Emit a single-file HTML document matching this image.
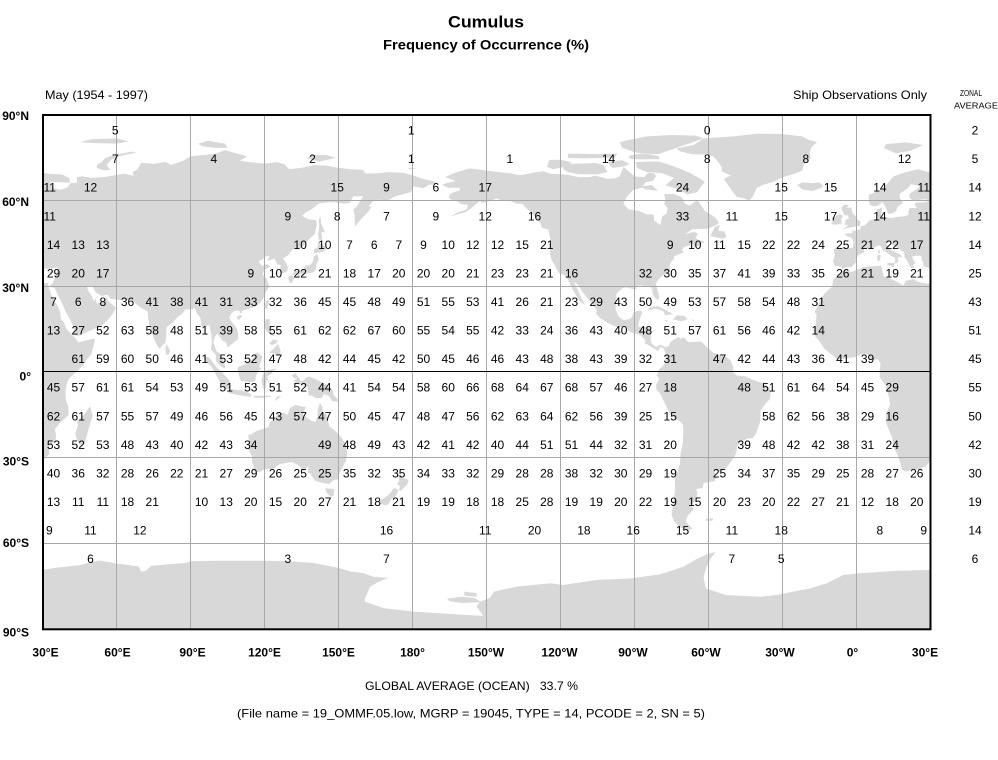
<!DOCTYPE html>
<html><head><meta charset="utf-8"><style>
html,body{margin:0;padding:0;background:#fff;}
svg{display:block;}
text{font-family:"Liberation Sans",Arial,sans-serif;}
</style></head><body>
<svg width="998" height="760" viewBox="0 0 998 760" xmlns="http://www.w3.org/2000/svg" xmlns:xlink="http://www.w3.org/1999/xlink">
<rect width="998" height="760" fill="#fff"/>
<defs>
<clipPath id="fr"><rect x="43" y="115" width="887.5" height="514.3"/></clipPath>
<g id="L">
<polygon points="-5.9,35.8 -2,35.1 3,36.8 10,37.3 11,33.5 15,32.3 19,30.3 20,32 23,32.6 25,31.6 29,30.9 32.3,31.3 32.5,29.9 33.5,27 35.6,23.9 37.2,21 37.4,18.7 38.6,17.5 39.7,15.1 41.7,13.4 43.3,11.9 44.5,10.4 51.2,11.8 51,10.4 49.9,6.4 48,4.5 46,2 43,-0.5 41,-2 40,-3.5 39.3,-6.5 39.5,-10 40.5,-12 40.6,-15 36.8,-18 35,-20 35.5,-22 35.3,-24 32.6,-26 32.8,-28.8 31,-30 28,-33 25.6,-34 22,-34.2 20,-34.8 18.4,-34.2 17.9,-32 16.5,-28.6 15,-26.5 14.5,-22.9 13,-20 11.8,-17 12.2,-14 13.6,-11.5 13.2,-8.8 12.2,-6 11.8,-4.5 9.5,-2 9.3,0.5 9.8,3 8.7,4.5 6,4.3 4.5,6.3 2,6.3 -1,5.2 -3,5 -7.5,4.4 -11,6.8 -13.3,8.5 -15,10.8 -16.7,12.4 -17.4,14.7 -16.5,16.5 -16.2,20.2 -17,21 -14.8,25 -13,27.5 -9.8,30 -9.5,32.5 -6.8,34"/>
<polygon points="49.3,-12 50.4,-15.5 49.5,-17.5 48,-22 47.1,-24.9 45.2,-25.5 43.7,-23 43.3,-21.5 44.4,-18.5 44,-17 46,-15.8 48,-13.5"/>
<polygon points="32.5,29.9 34.9,29.5 36.5,26.5 38,24 39.2,21.5 40.8,19 42.5,16 43,13 44.5,12.7 48,14 52.2,15.6 55,17 57,18.8 58.5,20.5 59.8,22.5 58.5,23.6 56.4,24.9 56.3,26.3 55,25.2 52,24 51.6,25.9 50.8,24.8 50,26.7 48.5,28.5 48,30 50.2,30.2 51.5,27.9 54,26.7 56.5,27.1 57.5,25.7 61.6,25.2 66.5,25.4 68,23.8 70,22.5 72.6,21.3 72.8,19 73.4,16 74.6,13 76,10 77.5,8.1 78.2,9 79.8,10.3 80.2,13 80.3,15.8 82.3,17 84.8,19.3 86.8,20.6 88,22 90,21.9 91.8,22.4 92.3,21 94,19 94.4,16 95.4,15.8 97.6,16.5 98.5,13 98.6,10 98.3,8 100.3,6 100.3,4 101.3,2.9 103.5,1.3 104.2,1.5 103.4,4.5 102.2,6.2 100.5,7.4 99.8,9.3 99.2,10.5 100,12.6 100.8,13.5 102,12.2 103,11 104.5,10.4 105,8.6 106.7,9.8 109.2,11.5 109.3,13.5 108.7,15.4 106.5,17.8 105.7,19 106.7,20.7 108,21.5 109.7,21.5 110.5,20.3 111,21.5 113.5,22.2 116.5,23 118.5,24.5 119.6,26 120.5,28 122,29.9 121.5,31 120.9,32.6 119.2,34.3 120.3,36 122.5,37 121,37.8 119,37.2 118,38.2 117.7,39 119,39.3 121,40.8 122,40.5 121.2,38.8 124,39.8 125.2,37.7 126.5,37.5 126.3,35 127.5,34.6 129.3,35.3 129.5,36.8 128.5,38.5 127.5,39.8 129.7,41 130.7,42.3 132,43.2 133,42.8 135.5,43.9 138,46.5 140.4,48.3 141.2,51.8 140.8,53.2 137.7,53.5 135.2,54.7 137,56 138.5,56.6 142,59 145.5,59.4 148.7,59.4 152,59 154.5,59.2 156,61.5 160,61.6 157.5,58 156,57 156.5,55 156.7,51 158.5,52.9 160,54.3 162.1,56.2 163.3,57.8 162.2,58.1 164,59.8 166,60.4 170,60 173,61.5 177,62.5 179.5,63 180,65 184.5,64.4 186.5,65.5 190.3,66.1 188,66.9 184,67.7 180,68.9 176,69.8 170,70 166,69.6 161,69.5 160,70.8 155,71 150,71.5 145,72.3 140,72.5 135,71.5 130,71 128,72.8 125,73.5 120,73 113,73.6 110,74 113,75.5 108,76.7 104,77.7 100,76.4 95,76 90,75.5 87,74 82,72.5 80,73.6 75,72.9 70,73.3 68.5,71 66.5,70 67,68.7 63,69.5 60,69 55,68.3 50,68 46,68.5 44,68.3 44,66.3 41.5,66.2 40,64.6 37,63.8 34.5,64.5 33,66.7 36,66.5 41,66.3 41,67.8 38,69.2 33,69.4 30,69.8 25,71 20,70 15,68.5 12.5,66 10,64 5,62 5,60 5.5,58.5 7,58 8.5,58.2 10.5,59.5 11.5,58.3 12.5,56.3 12.8,55.5 14.3,55.5 16,56.3 16.6,57.8 18.8,59.3 17.5,61 17.6,62.5 21,64.5 22,65.8 25.4,65.2 25,64.3 21.5,62.5 21.5,61 23,60 25,60.3 28,60.5 29.5,59.9 28,59.5 24,59.3 23.5,58.5 24.5,57.4 21.5,57.5 21,56 21.2,55.2 20,54.6 18.6,54.5 16,54.3 14.2,53.9 12,54.2 10.9,54 10,55 10.5,57.7 8.2,56.8 8.1,55.5 8.8,54 7,53.5 5,53 4,51.8 3,51.3 1.6,51 1.5,50 -1,49.4 -1.5,49.7 -1.8,48.7 -4.7,48.5 -4.2,47.8 -2.2,47.1 -1.2,46 -1.4,44 -1.8,43.4 -3.8,43.4 -8,43.7 -9.2,43 -8.8,41 -9.5,38.8 -8.8,37 -7.5,37.2 -6.3,36.8 -5.6,36 -4.4,36.7 -2,36.8 -0.5,38.2 0.2,38.8 -0.3,39.5 0.9,41 3.2,42 3,43.2 4.5,43.4 6,43.1 7.5,43.8 8.8,44.4 10,44 10.5,42.9 12.3,41.7 14,40.8 15.7,40 15.6,38.2 16.2,38 17.1,39 16.5,39.7 17.2,40.4 18.5,40.1 18,41 16,41.9 14,42.6 12.3,44.6 12.3,45.3 13.7,45.7 13.6,45 15.3,44.2 17.5,43 19.4,41.8 19.4,40.3 20.2,39.5 21,38.2 22,36.6 23.2,36.4 22.8,37.5 24,38.2 22.9,39.4 22.6,40.5 24,40.7 26,40.8 26.5,40.2 26.2,39.5 27,38.5 27.3,37 28.2,36.7 30,36.3 32,36.2 34,36.3 36.2,36.7 35.9,35.5 35,33 34.2,31.3"/>
<polygon points="-5.7,50 -3,50.6 1.4,51.2 1.7,52.7 0.3,53.4 -0.2,54.5 -1.6,55.6 -2,57 -1.8,57.6 -4,57.6 -3,58.6 -5,58.6 -6.2,57.5 -5.6,56.3 -5,55 -3.5,54.8 -3,53.8 -4.5,53.3 -4.5,52.3 -5.2,51.7 -3.3,51.4"/>
<polygon points="-6,52 -6.2,53.5 -5.5,54.8 -7.2,55.3 -8.5,54.5 -10,54 -9.5,53 -10.3,51.8 -8.5,51.6"/>
<polygon points="-22,64 -24,65.5 -22,66.4 -18,66.2 -15,66.4 -13.5,65.2 -14.5,64.4 -18,63.4 -21,63.8"/>
<polygon points="11,78.5 16,76.6 22,77.5 27,79.5 20,80.4 12,79.8"/>
<polygon points="45,80.5 50,80.2 60,80 65,80.8 60,81.8 50,81.5"/>
<polygon points="52,71.5 55,70.6 57.5,70.7 56,72.5 58,74.5 62,75.8 68,76.8 66.5,77.2 60,76.2 55.5,75 54,73.5 52,72.5"/>
<polygon points="95,79 100,78.5 105,78.5 104,80 97,81 93,79.9"/>
<polygon points="137,75 142,73.7 149,75 145,76 140,76"/>
<polygon points="179,71 182,71.3 178,71.5"/>
<polygon points="12.4,38.1 15.6,38.3 15.1,36.7 12.5,37.6"/>
<polygon points="8.4,41 9.8,41 9.6,39.1 8.4,39"/>
<polygon points="8.6,42.4 9.4,43 9.5,41.4 8.8,41.6"/>
<polygon points="23.5,35.5 26.3,35.3 26,35 24,35.2"/>
<polygon points="32.3,35 34.6,35.7 34,34.6 32.6,34.7"/>
<polygon points="130.9,34 132.5,35.4 135.5,35.6 136,36.5 136.8,37.3 138.5,37.5 139.5,38.5 140,40.5 141.4,41.4 142,39.5 141,37.5 140.8,36 140,35 138.5,34.7 137,34.6 135.5,33.6 135,34.5 133,34.3 131,33.9"/>
<polygon points="129.7,33.4 131,33.9 132,33 131.2,31.3 130.2,31.2 129.7,32.8"/>
<polygon points="132.5,33 133.8,34.3 134.7,34 134,33.3"/>
<polygon points="140,41.5 141,41.8 143.3,42 145.5,43.3 144.5,44 141.8,45.5 141.4,43.5 140.2,43.2 140,42.3"/>
<polygon points="142,46 143.5,46.5 143,49 144.5,49 143,52 142.7,54.3 142,53.5 142.2,51 141.8,48.5"/>
<polygon points="120.1,23 120.8,21.9 121.9,24.5 121.5,25.3 120.5,24.5"/>
<polygon points="108.6,19.2 110,20.1 111,19.6 109.5,18.2"/>
<polygon points="120,18.5 122.2,18.5 122,16 122.5,14 124,13 123.5,12.6 121.5,13.8 120.6,14.5 120,16"/>
<polygon points="122,7 123.5,8 125.5,9.8 126.6,7.3 126,6.2 125.3,5.6 124,6.5 122,6.8"/>
<polygon points="122,10 123.5,11.5 125.5,11 124.5,10 123,9.5"/>
<polygon points="109,1.5 109.6,-1 110.3,-3 114,-3.5 116.3,-3.2 116.5,-1.5 117.5,0.5 118.8,1 117.8,2 119.2,5.3 117.2,7 116,6.2 115.3,4.9 113.5,3.5 111.5,2.5 109.7,2"/>
<polygon points="95.3,5.5 97.5,5.2 100.3,2 103.8,-1 106,-3.2 105.8,-5.8 104.5,-5.9 102.3,-4 100.4,-1 98.7,1.7 96,4"/>
<polygon points="105.2,-6.8 106,-5.9 108.3,-6.2 111,-6.4 112.6,-6.9 114.6,-7.7 114.5,-8.7 111,-8.2 108,-7.8 106,-7.4"/>
<polygon points="115.5,-8.2 119,-8.3 122,-8.2 123,-8.5 119,-9 116,-8.9"/>
<polygon points="124,-10.2 125.2,-8.5 127,-8.4 124.5,-9.9"/>
<polygon points="118.8,-3 119.4,-5.6 120.4,-5.5 120.9,-2.6 122.3,-4.6 121,-1.5 122.5,-0.8 125,1.4 120.5,0.5 120,-0.4 119.7,0.2"/>
<polygon points="131,-1.2 132.5,-0.4 135,-3.3 137.8,-1.5 141,-2.6 145,-4.3 146,-5.6 147.5,-6 148,-8 150.5,-10.3 147.5,-10.2 146,-8.2 144,-7.7 143.3,-9 141,-9.1 139,-8.1 138,-8.4 137.6,-5.3 135.2,-4.4 132.8,-4.1 131.9,-2.8 133.3,-2.3 132,-2"/>
<polygon points="79.8,8 80.2,9.8 81.8,7.5 81.2,6.2 80.2,6"/>
<polygon points="113.4,-22 114,-26 113.5,-27 114.9,-29.5 115,-31.5 115.7,-33.3 115,-34.3 117.8,-35.1 120,-34 123.5,-33.9 126,-32.3 129,-31.7 131.3,-31.5 134,-32.7 135.9,-34.8 137.8,-32.7 137.6,-35.3 138.5,-35.3 139.7,-37.1 140.6,-38 143.5,-38.8 146.3,-39.1 148,-37.8 150,-37.5 150.2,-35.8 151.3,-33.8 153,-31.2 153.6,-28.5 153,-25.3 150.8,-22.5 149,-20.8 146.3,-19 145.4,-16 145.3,-14.9 143.7,-14 143.5,-12.3 142.5,-10.7 141.6,-12.9 141.5,-15.5 140.6,-17.5 139,-17 137,-15.8 135.5,-14.8 136.8,-12.2 135,-12 132.6,-11.5 131,-12.2 130,-13 129.5,-14.9 127.8,-14.2 125.5,-14.5 124,-16.3 122.2,-17.5 121.5,-19.3 119,-20 116.7,-20.6 114.6,-21.8"/>
<polygon points="144.6,-40.7 148.3,-40.9 148,-43.2 146.8,-43.6 145.2,-42.2"/>
<polygon points="172.7,-34.4 174.3,-35.7 175.8,-36.9 178.5,-37.7 177.9,-39.2 176.8,-40.2 175.2,-41.6 174.6,-41.2 174.9,-39.9 173.8,-39.2 174.6,-38 174.3,-36.8"/>
<polygon points="172.7,-40.5 174.3,-41.3 173.6,-42.8 172.7,-43.8 171.3,-44.5 170.6,-45.9 169.3,-46.6 166.5,-46 166.8,-45.1 168.5,-44 170.6,-42.8 172.1,-41"/>
<polygon points="-156.8,71.3 -152,70.8 -145,70 -141,69.7 -136.5,68.9 -133,69.5 -130,70 -127,70.3 -124,69.4 -120,69.3 -116,68.9 -113,68.3 -108,68.3 -106,68.8 -101,67.7 -98,67.8 -96,68.5 -94.5,71.9 -92,70 -90,68.5 -86,68.3 -84.5,69.8 -82,69.6 -81.3,68.6 -82.5,67 -85.5,66.5 -87,64.5 -90.5,63.8 -93,61.5 -94.5,59 -92.5,57 -88.5,56.5 -85,55.2 -82.3,55.2 -82,53 -79.5,51.5 -78.8,54.5 -77,55.5 -76.6,57.5 -78,58.8 -77.5,60.4 -78,62.3 -74,62.3 -71,61.3 -69.5,59 -67.6,58.3 -64.5,60.3 -61.5,56.5 -57.5,54.3 -55.7,52.3 -57,51.5 -60,50.2 -66.5,50 -69.5,48.3 -66,49.1 -64.3,48.6 -65,47.5 -64.8,46.6 -61.5,45.6 -63.5,44.6 -65.8,43.6 -66.2,45.1 -67.5,44.5 -70,43.7 -70.7,42.7 -70,41.8 -71.5,41.4 -74,40.5 -74,39.5 -75,38.8 -75.9,37 -75.5,35.3 -77,34.5 -78.9,33.6 -80.5,32.3 -81.4,30.6 -80.4,28 -80,26.5 -80.4,25.2 -81.7,25.9 -82.7,27.6 -82.8,29.2 -84,30.1 -85.3,29.7 -87,30.4 -89.5,30.2 -89.2,29.1 -90.5,29.1 -93.5,29.7 -95,29.3 -97.2,27.6 -97.5,25 -97.7,22 -96.5,19.5 -95,18.5 -94.5,18.2 -92,18.6 -91,19.3 -90.4,21 -88,21.5 -86.8,21.2 -87.5,19.5 -88.2,17.5 -88.5,16 -87.5,15.8 -84,15.9 -83.2,15 -83.5,11.5 -83,10 -81.3,8.8 -79.5,9.6 -77.4,8.7 -76,9.3 -75.5,10.5 -74.2,11.3 -72,12.4 -71.4,11.5 -70,12.2 -68.3,10.5 -66,10.6 -63,10.7 -62,10 -60.5,8.5 -58,6.8 -55,6 -52.5,5.2 -51,4 -50,1.8 -50,0 -48.5,-1.2 -45,-1.5 -41.5,-2.9 -38.5,-3.7 -35.3,-5.3 -34.8,-7.5 -35.2,-9.5 -37.1,-11.2 -38.9,-13.5 -39.1,-17.5 -40.8,-21.5 -42,-23 -44.5,-23.3 -47,-24.5 -48.5,-26 -48.7,-28.4 -50.5,-30.9 -52.5,-33.2 -53.4,-33.8 -54.9,-34.9 -56.9,-34.5 -58.4,-34.3 -57.2,-35.5 -56.7,-36.5 -57.6,-38.2 -62,-38.8 -62.3,-40.5 -65,-41 -64.5,-42.5 -65.3,-45 -67.6,-46.5 -65.8,-47.8 -68.3,-50.1 -69.2,-52.1 -68.5,-53 -66.5,-54.8 -69,-55.4 -71.5,-54.3 -74,-52.2 -75,-50 -74.5,-47 -74,-44 -73.5,-41.5 -73.7,-37.2 -72.5,-35 -71.6,-32 -71.3,-28.5 -70.4,-25 -70.2,-20 -70.4,-18.3 -71.5,-17.3 -75.2,-15.3 -76.3,-13.4 -77.7,-11 -79.4,-7.8 -81.2,-6 -81.2,-4.3 -80,-2.5 -80.9,-1 -80,1 -78.8,1.8 -77.5,3.5 -77.4,6.6 -78.2,8.3 -79.5,8.9 -80.4,7.4 -82,8.2 -84.5,9.6 -85.7,10 -85.7,11.1 -87.6,13 -89.3,13.5 -91.4,13.9 -92.3,14.5 -94,16 -96.5,15.6 -98.5,16.3 -101,17.3 -104,18.9 -105.6,20.5 -105.3,21.8 -106.8,23.5 -109,25.8 -111,27.9 -112.8,30.5 -114.7,31.7 -113,28.8 -112,26.8 -110.5,24.3 -109.9,22.9 -110.3,23.6 -112.2,24.8 -114,27.3 -116,30.5 -117.1,32.6 -118.5,34 -120.6,34.6 -121.9,36.6 -122.5,37.8 -123.8,39.6 -124.3,42 -124,46 -124.6,48.3 -125,50 -127.5,50.5 -128,52 -130,54 -132,56 -134,57.5 -135.5,59 -138,59 -140,59.8 -143.5,60 -146,60.8 -148,60 -150,59.5 -151.8,59.2 -152.5,60 -154,59 -156,57.5 -158.5,56 -161.5,55.3 -164.8,54.4 -162,55.8 -158,57 -157.5,58.6 -160,58.7 -162,59.8 -164.5,60.5 -165.4,61.1 -164.7,62.4 -163,63.1 -161,63.5 -160.8,64.5 -163,64.6 -165.5,64.5 -168,65.6 -166,66.2 -163.7,66.6 -162.6,67 -164.5,67.6 -166.7,68.3 -163,69.7"/>
<polygon points="-61.5,66.5 -63,65 -64.5,63 -68.5,62.2 -72,63.8 -74,64.5 -77.5,65.4 -74,68 -79,69.7 -85,70 -89,71.5 -89.5,73.5 -85,73.7 -80,73.7 -76,72.6 -71,71 -67,69.5 -63,67.5"/>
<polygon points="-119,71.5 -117.5,73 -112,73 -106,73.2 -102.5,72.5 -101,70 -105,69.2 -113,69.3 -117,70 -118.5,70.8"/>
<polygon points="-125.5,71.9 -124.5,74.3 -120,74.3 -115.5,73.5 -119,71.7 -123,71"/>
<polygon points="-101,73.6 -95,74.2 -92,72.8 -94.5,72 -96,71.8 -99,71.5"/>
<polygon points="-117,76.5 -105,76.3 -97,76.5 -98,75 -104,75 -110,74.8 -117,75"/>
<polygon points="-92,74.7 -88,74.5 -80,74.5 -80,75.5 -84,76.3 -89,76.3 -92,75.8"/>
<polygon points="-80,76.3 -78,77 -73,78.5 -68,80 -62,81.8 -65,82.8 -75,83 -85,82.5 -91,81.5 -96,80.5 -95,78.5 -90,77 -87,76.5"/>
<polygon points="-86,64 -80.5,63.5 -83,65.5 -87,65"/>
<polygon points="-52.7,47.5 -53.8,46.7 -55.8,47 -59.3,47.6 -57.5,50.7 -55.5,51.6 -56,49.5 -53.5,49.2 -53,48"/>
<polygon points="-62,81.8 -50,82.5 -40,83.5 -30,83.3 -22,82.5 -20,81.5 -16,80.5 -18,79 -19,77 -18.5,75 -21.5,72.5 -22,70.5 -25,69.5 -30,68.2 -34,66.5 -38,65.5 -40.5,64.5 -42,61.5 -43.5,60 -45.5,60.8 -48.5,61.3 -50.5,63.5 -52.5,66 -53.8,67.6 -51,68.8 -54.7,70.3 -54.5,71.5 -56,73.5 -58,75.5 -62,76.2 -66.5,76.2 -71.5,77.3 -73,78.3 -66,79.5"/>
<polygon points="-84.9,21.9 -83,22.9 -80.5,23.1 -77.5,21.8 -74.2,20.2 -77.5,19.9 -78.5,21.5 -81.5,22.2 -83.5,21.8"/>
<polygon points="-74.4,18.4 -72.8,19.9 -70,19.7 -68.4,18.5 -71,17.8 -73,18.2"/>
<polygon points="-78.3,18.4 -76.2,18 -77,17.7"/>
<polygon points="-67.2,18.4 -65.6,18.3 -66,18"/>
<polygon points="-61,-51.3 -58,-51.2 -58.5,-52 -61,-52"/>
</g>
</defs>

<g clip-path="url(#fr)">
<g transform="translate(42.5,115) scale(2.4667,-2.8572) translate(-30,-90)" fill="#d8d8d8">
<use xlink:href="#L" href="#L"/>
<use xlink:href="#L" href="#L" transform="translate(360,0)"/>
<polygon points="30,-69.2 35,-68.5 40,-68 45,-67.6 50,-66.5 53,-65.9 57,-66.5 60,-67 65,-67.5 69,-68 70,-69.8 72,-69.5 74,-67.8 80,-67.3 88,-66.8 90,-66.2 100,-66 110,-66 120,-66 130,-66.2 140,-66.8 150,-68.5 155,-69.8 160,-70.3 164,-71.6 170,-72 166,-73.5 162.8,-75.1 160.7,-79.2 160.7,-80.3 168.2,-82.6 180.3,-83.8 200.6,-84.9 208.7,-85.3 206,-82 207.4,-80.3 211.4,-79 213,-76.8 222,-75.1 229,-74.5 236,-73.9 241,-74.5 255,-72.7 268,-72.2 280,-70.8 285,-69.5 290,-68 295,-65.5 300,-63.5 303,-63 301,-65 299,-68.5 298,-72 299,-75.7 307,-78 321,-78.6 327.6,-78 334.4,-76.8 341,-75.7 348,-73.9 354.6,-71 361.5,-70.4 375,-69.6 390,-69.2 390,-90 30,-90"/>
<polygon points="194,-79.2 200,-78.6 205,-79 208,-80.5 200,-80.8 195,-80.2"/>
<polygon points="201,-76.8 206,-77.3 206,-78.6 201,-78.2"/>
</g>
</g>

<g stroke="#a8a8a8" stroke-width="1" fill="none">
<line x1="116.5" y1="115" x2="116.5" y2="629"/>
<line x1="190.5" y1="115" x2="190.5" y2="629"/>
<line x1="264.5" y1="115" x2="264.5" y2="629"/>
<line x1="338.5" y1="115" x2="338.5" y2="629"/>
<line x1="412.5" y1="115" x2="412.5" y2="629"/>
<line x1="486.5" y1="115" x2="486.5" y2="629"/>
<line x1="560.5" y1="115" x2="560.5" y2="629"/>
<line x1="634.5" y1="115" x2="634.5" y2="629"/>
<line x1="708.5" y1="115" x2="708.5" y2="629"/>
<line x1="782.5" y1="115" x2="782.5" y2="629"/>
<line x1="856.5" y1="115" x2="856.5" y2="629"/>
<line x1="43" y1="200.5" x2="930" y2="200.5"/>
<line x1="43" y1="286.5" x2="930" y2="286.5"/>
<line x1="43" y1="457.5" x2="930" y2="457.5"/>
<line x1="43" y1="543.5" x2="930" y2="543.5"/>
</g>
<line x1="43" y1="371.5" x2="930" y2="371.5" stroke="#000" stroke-width="1"/>
<rect x="43" y="115" width="887.5" height="514.3" fill="none" stroke="#000" stroke-width="2"/>

<!-- titles -->
<text x="486" y="27.3" font-size="17" font-weight="bold" text-anchor="middle" textLength="76" lengthAdjust="spacingAndGlyphs">Cumulus</text>
<text x="486" y="49.5" font-size="14" font-weight="bold" text-anchor="middle" textLength="206" lengthAdjust="spacingAndGlyphs">Frequency of Occurrence (%)</text>
<text x="45" y="99" font-size="12" textLength="103" lengthAdjust="spacingAndGlyphs">May (1954 - 1997)</text>
<text x="793" y="99" font-size="12" textLength="134" lengthAdjust="spacingAndGlyphs">Ship Observations Only</text>
<text x="960" y="96" font-size="8.5" textLength="22" lengthAdjust="spacingAndGlyphs">ZONAL</text>
<text x="954" y="108.3" font-size="8.5" textLength="44" lengthAdjust="spacingAndGlyphs">AVERAGE</text>
<text x="365" y="690" font-size="12" style="white-space:pre" textLength="213" lengthAdjust="spacingAndGlyphs">GLOBAL AVERAGE (OCEAN)   33.7 %</text>
<text x="237" y="717.5" font-size="12" textLength="468" lengthAdjust="spacingAndGlyphs">(File name = 19_OMMF.05.low, MGRP = 19045, TYPE = 14, PCODE = 2, SN = 5)</text>

<!-- axis labels -->
<g font-size="12" font-weight="bold" text-anchor="end">
<text x="29" y="120">90°N</text>
<text x="29" y="206">60°N</text>
<text x="29" y="292">30°N</text>
<text x="31" y="380.5">0°</text>
<text x="29" y="465.5">30°S</text>
<text x="29" y="547">60°S</text>
<text x="29" y="636.5">90°S</text>
</g>
<g font-size="12" font-weight="bold" text-anchor="middle">
<text x="45.5" y="656.5">30°E</text>
<text x="117.5" y="656.5">60°E</text>
<text x="192.5" y="656.5">90°E</text>
<text x="264.5" y="656.5">120°E</text>
<text x="338.5" y="656.5">150°E</text>
<text x="412.5" y="656.5">180°</text>
<text x="486" y="656.5">150°W</text>
<text x="559.5" y="656.5">120°W</text>
<text x="633" y="656.5">90°W</text>
<text x="706" y="656.5">60°W</text>
<text x="780" y="656.5">30°W</text>
<text x="852.5" y="656.5">0°</text>
<text x="925" y="656.5">30°E</text>
</g>

<!-- data -->
<g font-size="12" text-anchor="middle" fill="#000">
<text y="134.6"><tspan x="115.2">5</tspan><tspan x="411.2">1</tspan><tspan x="707.2">0</tspan></text>
<text y="163.2"><tspan x="115.2">7</tspan><tspan x="213.9">4</tspan><tspan x="312.5">2</tspan><tspan x="411.2">1</tspan><tspan x="509.9">1</tspan><tspan x="608.5">14</tspan><tspan x="707.2">8</tspan><tspan x="805.9">8</tspan><tspan x="904.5">12</tspan></text>
<text y="191.7"><tspan x="90.5">12</tspan><tspan x="337.2">15</tspan><tspan x="386.5">9</tspan><tspan x="435.9">6</tspan><tspan x="485.2">17</tspan><tspan x="682.5">24</tspan><tspan x="781.2">15</tspan><tspan x="830.5">15</tspan><tspan x="879.9">14</tspan></text>
<text y="220.3"><tspan x="287.9">9</tspan><tspan x="337.2">8</tspan><tspan x="386.5">7</tspan><tspan x="435.9">9</tspan><tspan x="485.2">12</tspan><tspan x="534.5">16</tspan><tspan x="682.5">33</tspan><tspan x="731.9">11</tspan><tspan x="781.2">15</tspan><tspan x="830.5">17</tspan><tspan x="879.9">14</tspan></text>
<text y="248.9"><tspan x="53.5">14</tspan><tspan x="78.2">13</tspan><tspan x="102.8">13</tspan><tspan x="300.2">10</tspan><tspan x="324.8">10</tspan><tspan x="349.5">7</tspan><tspan x="374.2">6</tspan><tspan x="398.8">7</tspan><tspan x="423.5">9</tspan><tspan x="448.2">10</tspan><tspan x="472.8">12</tspan><tspan x="497.5">12</tspan><tspan x="522.2">15</tspan><tspan x="546.8">21</tspan><tspan x="670.2">9</tspan><tspan x="694.8">10</tspan><tspan x="719.5">11</tspan><tspan x="744.2">15</tspan><tspan x="768.8">22</tspan><tspan x="793.5">22</tspan><tspan x="818.2">24</tspan><tspan x="842.8">25</tspan><tspan x="867.5">21</tspan><tspan x="892.2">22</tspan><tspan x="916.8">17</tspan></text>
<text y="277.5"><tspan x="53.5">29</tspan><tspan x="78.2">20</tspan><tspan x="102.8">17</tspan><tspan x="250.8">9</tspan><tspan x="275.5">10</tspan><tspan x="300.2">22</tspan><tspan x="324.8">21</tspan><tspan x="349.5">18</tspan><tspan x="374.2">17</tspan><tspan x="398.8">20</tspan><tspan x="423.5">20</tspan><tspan x="448.2">20</tspan><tspan x="472.8">21</tspan><tspan x="497.5">23</tspan><tspan x="522.2">23</tspan><tspan x="546.8">21</tspan><tspan x="571.5">16</tspan><tspan x="645.5">32</tspan><tspan x="670.2">30</tspan><tspan x="694.8">35</tspan><tspan x="719.5">37</tspan><tspan x="744.2">41</tspan><tspan x="768.8">39</tspan><tspan x="793.5">33</tspan><tspan x="818.2">35</tspan><tspan x="842.8">26</tspan><tspan x="867.5">21</tspan><tspan x="892.2">19</tspan><tspan x="916.8">21</tspan></text>
<text y="306"><tspan x="53.5">7</tspan><tspan x="78.2">6</tspan><tspan x="102.8">8</tspan><tspan x="127.5">36</tspan><tspan x="152.2">41</tspan><tspan x="176.8">38</tspan><tspan x="201.5">41</tspan><tspan x="226.2">31</tspan><tspan x="250.8">33</tspan><tspan x="275.5">32</tspan><tspan x="300.2">36</tspan><tspan x="324.8">45</tspan><tspan x="349.5">45</tspan><tspan x="374.2">48</tspan><tspan x="398.8">49</tspan><tspan x="423.5">51</tspan><tspan x="448.2">55</tspan><tspan x="472.8">53</tspan><tspan x="497.5">41</tspan><tspan x="522.2">26</tspan><tspan x="546.8">21</tspan><tspan x="571.5">23</tspan><tspan x="596.2">29</tspan><tspan x="620.8">43</tspan><tspan x="645.5">50</tspan><tspan x="670.2">49</tspan><tspan x="694.8">53</tspan><tspan x="719.5">57</tspan><tspan x="744.2">58</tspan><tspan x="768.8">54</tspan><tspan x="793.5">48</tspan><tspan x="818.2">31</tspan></text>
<text y="334.6"><tspan x="53.5">13</tspan><tspan x="78.2">27</tspan><tspan x="102.8">52</tspan><tspan x="127.5">63</tspan><tspan x="152.2">58</tspan><tspan x="176.8">48</tspan><tspan x="201.5">51</tspan><tspan x="226.2">39</tspan><tspan x="250.8">58</tspan><tspan x="275.5">55</tspan><tspan x="300.2">61</tspan><tspan x="324.8">62</tspan><tspan x="349.5">62</tspan><tspan x="374.2">67</tspan><tspan x="398.8">60</tspan><tspan x="423.5">55</tspan><tspan x="448.2">54</tspan><tspan x="472.8">55</tspan><tspan x="497.5">42</tspan><tspan x="522.2">33</tspan><tspan x="546.8">24</tspan><tspan x="571.5">36</tspan><tspan x="596.2">43</tspan><tspan x="620.8">40</tspan><tspan x="645.5">48</tspan><tspan x="670.2">51</tspan><tspan x="694.8">57</tspan><tspan x="719.5">61</tspan><tspan x="744.2">56</tspan><tspan x="768.8">46</tspan><tspan x="793.5">42</tspan><tspan x="818.2">14</tspan></text>
<text y="363.2"><tspan x="78.2">61</tspan><tspan x="102.8">59</tspan><tspan x="127.5">60</tspan><tspan x="152.2">50</tspan><tspan x="176.8">46</tspan><tspan x="201.5">41</tspan><tspan x="226.2">53</tspan><tspan x="250.8">52</tspan><tspan x="275.5">47</tspan><tspan x="300.2">48</tspan><tspan x="324.8">42</tspan><tspan x="349.5">44</tspan><tspan x="374.2">45</tspan><tspan x="398.8">42</tspan><tspan x="423.5">50</tspan><tspan x="448.2">45</tspan><tspan x="472.8">46</tspan><tspan x="497.5">46</tspan><tspan x="522.2">43</tspan><tspan x="546.8">48</tspan><tspan x="571.5">38</tspan><tspan x="596.2">43</tspan><tspan x="620.8">39</tspan><tspan x="645.5">32</tspan><tspan x="670.2">31</tspan><tspan x="719.5">47</tspan><tspan x="744.2">42</tspan><tspan x="768.8">44</tspan><tspan x="793.5">43</tspan><tspan x="818.2">36</tspan><tspan x="842.8">41</tspan><tspan x="867.5">39</tspan></text>
<text y="391.7"><tspan x="53.5">45</tspan><tspan x="78.2">57</tspan><tspan x="102.8">61</tspan><tspan x="127.5">61</tspan><tspan x="152.2">54</tspan><tspan x="176.8">53</tspan><tspan x="201.5">49</tspan><tspan x="226.2">51</tspan><tspan x="250.8">53</tspan><tspan x="275.5">51</tspan><tspan x="300.2">52</tspan><tspan x="324.8">44</tspan><tspan x="349.5">41</tspan><tspan x="374.2">54</tspan><tspan x="398.8">54</tspan><tspan x="423.5">58</tspan><tspan x="448.2">60</tspan><tspan x="472.8">66</tspan><tspan x="497.5">68</tspan><tspan x="522.2">64</tspan><tspan x="546.8">67</tspan><tspan x="571.5">68</tspan><tspan x="596.2">57</tspan><tspan x="620.8">46</tspan><tspan x="645.5">27</tspan><tspan x="670.2">18</tspan><tspan x="744.2">48</tspan><tspan x="768.8">51</tspan><tspan x="793.5">61</tspan><tspan x="818.2">64</tspan><tspan x="842.8">54</tspan><tspan x="867.5">45</tspan><tspan x="892.2">29</tspan></text>
<text y="420.3"><tspan x="53.5">62</tspan><tspan x="78.2">61</tspan><tspan x="102.8">57</tspan><tspan x="127.5">55</tspan><tspan x="152.2">57</tspan><tspan x="176.8">49</tspan><tspan x="201.5">46</tspan><tspan x="226.2">56</tspan><tspan x="250.8">45</tspan><tspan x="275.5">43</tspan><tspan x="300.2">57</tspan><tspan x="324.8">47</tspan><tspan x="349.5">50</tspan><tspan x="374.2">45</tspan><tspan x="398.8">47</tspan><tspan x="423.5">48</tspan><tspan x="448.2">47</tspan><tspan x="472.8">56</tspan><tspan x="497.5">62</tspan><tspan x="522.2">63</tspan><tspan x="546.8">64</tspan><tspan x="571.5">62</tspan><tspan x="596.2">56</tspan><tspan x="620.8">39</tspan><tspan x="645.5">25</tspan><tspan x="670.2">15</tspan><tspan x="768.8">58</tspan><tspan x="793.5">62</tspan><tspan x="818.2">56</tspan><tspan x="842.8">38</tspan><tspan x="867.5">29</tspan><tspan x="892.2">16</tspan></text>
<text y="448.9"><tspan x="53.5">53</tspan><tspan x="78.2">52</tspan><tspan x="102.8">53</tspan><tspan x="127.5">48</tspan><tspan x="152.2">43</tspan><tspan x="176.8">40</tspan><tspan x="201.5">42</tspan><tspan x="226.2">43</tspan><tspan x="250.8">34</tspan><tspan x="324.8">49</tspan><tspan x="349.5">48</tspan><tspan x="374.2">49</tspan><tspan x="398.8">43</tspan><tspan x="423.5">42</tspan><tspan x="448.2">41</tspan><tspan x="472.8">42</tspan><tspan x="497.5">40</tspan><tspan x="522.2">44</tspan><tspan x="546.8">51</tspan><tspan x="571.5">51</tspan><tspan x="596.2">44</tspan><tspan x="620.8">32</tspan><tspan x="645.5">31</tspan><tspan x="670.2">20</tspan><tspan x="744.2">39</tspan><tspan x="768.8">48</tspan><tspan x="793.5">42</tspan><tspan x="818.2">42</tspan><tspan x="842.8">38</tspan><tspan x="867.5">31</tspan><tspan x="892.2">24</tspan></text>
<text y="477.5"><tspan x="53.5">40</tspan><tspan x="78.2">36</tspan><tspan x="102.8">32</tspan><tspan x="127.5">28</tspan><tspan x="152.2">26</tspan><tspan x="176.8">22</tspan><tspan x="201.5">21</tspan><tspan x="226.2">27</tspan><tspan x="250.8">29</tspan><tspan x="275.5">26</tspan><tspan x="300.2">25</tspan><tspan x="324.8">25</tspan><tspan x="349.5">35</tspan><tspan x="374.2">32</tspan><tspan x="398.8">35</tspan><tspan x="423.5">34</tspan><tspan x="448.2">33</tspan><tspan x="472.8">32</tspan><tspan x="497.5">29</tspan><tspan x="522.2">28</tspan><tspan x="546.8">28</tspan><tspan x="571.5">38</tspan><tspan x="596.2">32</tspan><tspan x="620.8">30</tspan><tspan x="645.5">29</tspan><tspan x="670.2">19</tspan><tspan x="719.5">25</tspan><tspan x="744.2">34</tspan><tspan x="768.8">37</tspan><tspan x="793.5">35</tspan><tspan x="818.2">29</tspan><tspan x="842.8">25</tspan><tspan x="867.5">28</tspan><tspan x="892.2">27</tspan><tspan x="916.8">26</tspan></text>
<text y="506"><tspan x="53.5">13</tspan><tspan x="78.2">11</tspan><tspan x="102.8">11</tspan><tspan x="127.5">18</tspan><tspan x="152.2">21</tspan><tspan x="201.5">10</tspan><tspan x="226.2">13</tspan><tspan x="250.8">20</tspan><tspan x="275.5">15</tspan><tspan x="300.2">20</tspan><tspan x="324.8">27</tspan><tspan x="349.5">21</tspan><tspan x="374.2">18</tspan><tspan x="398.8">21</tspan><tspan x="423.5">19</tspan><tspan x="448.2">19</tspan><tspan x="472.8">18</tspan><tspan x="497.5">18</tspan><tspan x="522.2">25</tspan><tspan x="546.8">28</tspan><tspan x="571.5">19</tspan><tspan x="596.2">19</tspan><tspan x="620.8">20</tspan><tspan x="645.5">22</tspan><tspan x="670.2">19</tspan><tspan x="694.8">15</tspan><tspan x="719.5">20</tspan><tspan x="744.2">23</tspan><tspan x="768.8">20</tspan><tspan x="793.5">22</tspan><tspan x="818.2">27</tspan><tspan x="842.8">21</tspan><tspan x="867.5">12</tspan><tspan x="892.2">18</tspan><tspan x="916.8">20</tspan></text>
<text y="534.6"><tspan x="90.5">11</tspan><tspan x="139.9">12</tspan><tspan x="386.5">16</tspan><tspan x="485.2">11</tspan><tspan x="534.5">20</tspan><tspan x="583.9">18</tspan><tspan x="633.2">16</tspan><tspan x="682.5">15</tspan><tspan x="731.9">11</tspan><tspan x="781.2">18</tspan><tspan x="879.9">8</tspan></text>
<text y="563.2"><tspan x="90.5">6</tspan><tspan x="287.9">3</tspan><tspan x="386.5">7</tspan><tspan x="731.9">7</tspan><tspan x="781.2">5</tspan></text>
</g>
<g font-size="12" text-anchor="start">
<text x="43.5" y="191.7">11</text>
<text x="43.5" y="220.3">11</text>
<text x="46" y="534.6">9</text>
</g>
<g font-size="12" text-anchor="end">
<text x="930" y="191.7">11</text>
<text x="930" y="220.3">11</text>
<text x="927" y="534.6">9</text>
</g>
<!-- zonal averages -->
<g font-size="12" text-anchor="middle">
<text x="975" y="134.6">2</text>
<text x="975" y="163.2">5</text>
<text x="975" y="191.7">14</text>
<text x="975" y="220.3">12</text>
<text x="975" y="248.9">14</text>
<text x="975" y="277.5">25</text>
<text x="975" y="306">43</text>
<text x="975" y="334.6">51</text>
<text x="975" y="363.2">45</text>
<text x="975" y="391.7">55</text>
<text x="975" y="420.3">50</text>
<text x="975" y="448.9">42</text>
<text x="975" y="477.5">30</text>
<text x="975" y="506">19</text>
<text x="975" y="534.6">14</text>
<text x="975" y="563.2">6</text>
</g>
</svg>
</body></html>
